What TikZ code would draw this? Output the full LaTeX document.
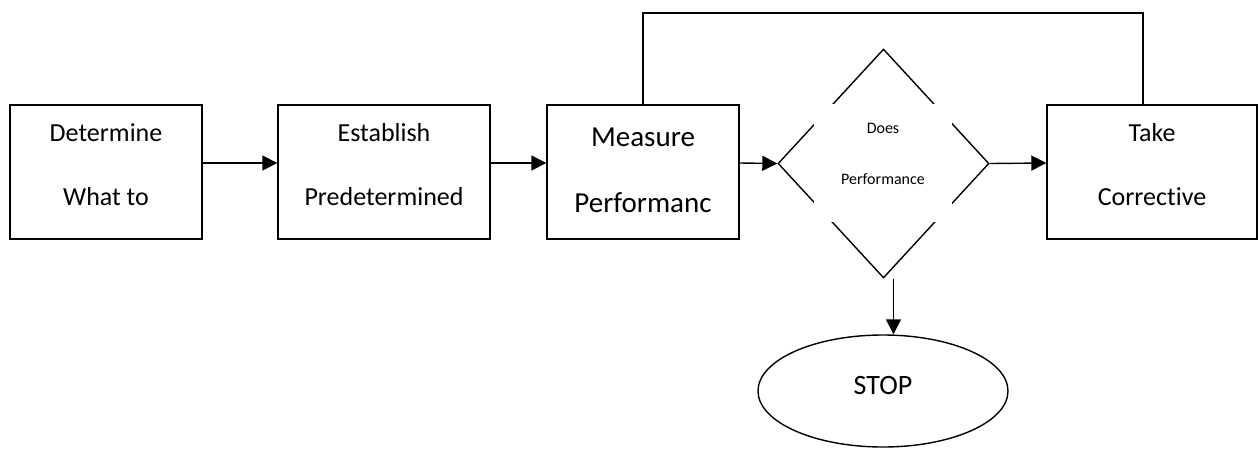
\documentclass[tikz,border=0pt]{standalone}
\usepackage{fontspec}
\setmainfont{Carlito}[Ligatures=CommonOff]
\usetikzlibrary{arrows.meta,shapes.geometric}

\def\boxHeight{134pt}
\def\arrowLift{9pt}

\tikzset{
    stepBox/.style = {draw, rectangle, minimum height=\boxHeight, inner sep=0pt},
    boxText/.style = {align=center, font=\fontsize{26}{64}\selectfont},
    flowArrow/.style = {-{Triangle[length=15pt, width=15pt]}},
}

\begin{document}
\begin{tikzpicture}[x=1pt, y=-1pt, line width=1.4pt]
    \useasboundingbox (0,0) rectangle (1259,448);

    % the four steps
    \node [stepBox, minimum width=192pt] (determine) at (106,172) {};
    \node [boxText] (determineText) at (106,165) {Determine\\What to};
    \node [stepBox, minimum width=212pt] (establish) at (384,172) {};
    \node [boxText] (establishText) at (384,165) {Establish\\Predetermined};
    \node [stepBox, minimum width=192pt] (measure) at (643,172) {};
    \node [boxText, font=\fontsize{29}{66}\selectfont] (measureText) at (643,170) {Measure\\Performanc};
    \node [stepBox, minimum width=210pt] (correct) at (1152,172) {};
    \node [boxText] (correctText) at (1152,165) {Take\\Corrective};

    % decision, partly hidden by its text box
    \node [draw, diamond, minimum width=211pt, minimum height=229pt, inner sep=0pt] (check) at (883.5,163.5) {};
    \node [fill=white, minimum width=138pt, minimum height=118pt, inner sep=0pt] (checkBox) at (883,163) {};
    \node [align=center, font=\fontsize{16}{51}\selectfont] (checkText) at (883,153.5) {Does\\Performance};

    \node [draw, ellipse, minimum width=250pt, minimum height=112pt, inner sep=0pt,
        font=\fontsize{28}{34}\selectfont, text depth=12pt] (stop) at (883,391) {STOP};

    \coordinate (loopTop) at (0,13);

    \draw [flowArrow] ([yshift=\arrowLift]determine.east) -- ([yshift=\arrowLift]establish.west);
    \draw [flowArrow] ([yshift=\arrowLift]establish.east) -- ([yshift=\arrowLift]measure.west);
    \draw [flowArrow] ([yshift=\arrowLift]measure.east) -- (check.west);
    \draw [flowArrow] (check.east) -- ([yshift=\arrowLift]correct.west);
    \draw [flowArrow] ([xshift=10pt]check.south) -- ([xshift=10pt]check.south |- stop.north);
    \draw (measure.north) -- (measure.north |- loopTop) -| ([xshift=-9pt]correct.north);
\end{tikzpicture}
\end{document}
